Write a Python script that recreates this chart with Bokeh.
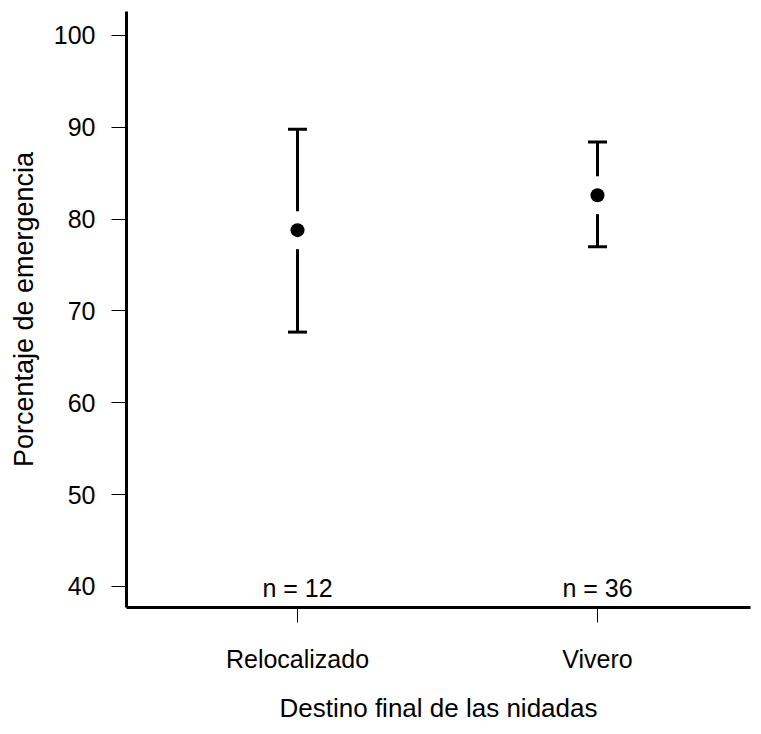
from bokeh.plotting import figure
from bokeh.models import Range1d, FixedTicker, Whisker, TeeHead, ColumnDataSource
from bokeh.core.properties import value
from bokeh.embed import file_html
from bokeh.resources import INLINE

# Nest destination groups and emergence percentage (mean with interval)
groups = ["Relocalizado", "Vivero"]
group_pos = [1, 2]
means = [78.8, 82.6]
lower = [67.7, 77.0]
upper = [89.8, 88.4]
sample_labels = ["n = 12", "n = 36"]
y_ticks = [40, 50, 60, 70, 80, 90, 100]

FONT = "Liberation Sans"
FS = "25px"

src = ColumnDataSource(dict(x=group_pos, mean=means, lo=lower, hi=upper, n=sample_labels))

y_start, y_end = 37.71, 102.61
p = figure(width=761, height=734, output_backend="svg", toolbar_location=None,
           x_range=Range1d(0.43, 2.51), y_range=Range1d(y_start, y_end),
           min_border_left=126, min_border_right=11, min_border_top=11,
           min_border_bottom=127)
p.outline_line_color = None
p.grid.visible = False
p.background_fill_color = "white"
p.border_fill_color = "white"

# Interval bars with tee caps
whisk = Whisker(source=src, base="x", lower="lo", upper="hi", dimension="height",
                line_width=3, line_color="black",
                lower_head=TeeHead(size=19, line_width=3, line_color="black"),
                upper_head=TeeHead(size=19, line_width=3, line_color="black"))
p.add_layout(whisk)

# White halo leaves a gap in the bar around each mean point
p.scatter("x", "mean", source=src, size=38, fill_color="white", line_color=None)
p.scatter("x", "mean", source=src, size=14, fill_color="black", line_color=None)

# Sample sizes along the bottom of the plot area
p.text(x="x", y=y_start, text="n", source=src, text_align="center",
       text_baseline="bottom", y_offset=-6, text_font=value(FONT),
       text_font_size=FS, text_color="black")

for ax in (p.xaxis[0], p.yaxis[0]):
    ax.axis_line_width = 3
    ax.axis_line_color = "black"
    ax.major_tick_line_width = 1
    ax.major_tick_line_color = "black"
    ax.major_tick_in = 0
    ax.minor_tick_line_color = None
    ax.major_label_text_font = FONT
    ax.major_label_text_font_size = FS
    ax.major_label_text_color = "black"
    ax.axis_label_text_font = FONT
    ax.axis_label_text_font_style = "normal"
    ax.axis_label_text_color = "black"

p.xaxis.ticker = FixedTicker(ticks=group_pos)
p.xaxis.major_label_overrides = {pos: g for pos, g in zip(group_pos, groups)}
p.xaxis.major_tick_out = 15
p.xaxis.major_label_standoff = 22
p.xaxis.axis_label = "Destino final de las nidadas"
p.xaxis.axis_label_text_font_size = "26px"
p.xaxis.axis_label_standoff = 17

p.yaxis.ticker = FixedTicker(ticks=y_ticks)
p.yaxis.major_tick_out = 15
p.yaxis.major_label_standoff = 16
p.yaxis.axis_label = "Porcentaje de emergencia"
p.yaxis.axis_label_text_font_size = "27px"
p.yaxis.axis_label_standoff = 12

open("out.html", "w").write(file_html(p, INLINE))
